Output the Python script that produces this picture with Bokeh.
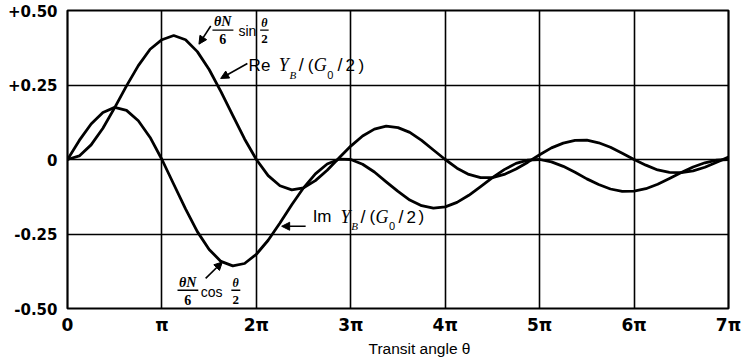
from bokeh.plotting import figure
from bokeh.models import Range1d, FixedTicker, Label, Arrow, NormalHead, Title
from bokeh.embed import file_html
from bokeh.resources import INLINE

# transit angle in units of pi
theta_pi = [0.0, 0.125, 0.25, 0.375, 0.5, 0.625, 0.75, 0.875,
            1.0, 1.125, 1.25, 1.375, 1.5, 1.625, 1.75, 1.875,
            2.0, 2.125, 2.25, 2.375, 2.5, 2.625, 2.75, 2.875,
            3.0, 3.125, 3.25, 3.375, 3.5, 3.625, 3.75, 3.875,
            4.0, 4.125, 4.25, 4.375, 4.5, 4.625, 4.75, 4.875,
            5.0, 5.125, 5.25, 5.375, 5.5, 5.625, 5.75, 5.875,
            6.0, 6.125, 6.25, 6.375, 6.5, 6.625, 6.75, 6.875, 7.0]

re_yb = [0.000, 0.012, 0.049, 0.105, 0.174, 0.247, 0.315, 0.370,
         0.402, 0.416, 0.402, 0.362, 0.302, 0.228, 0.148, 0.069,
         0.000, -0.054, -0.088, -0.102, -0.095, -0.071, -0.036, 0.005,
         0.045, 0.079, 0.102, 0.112, 0.107, 0.091, 0.064, 0.032,
         0.000, -0.029, -0.050, -0.061, -0.061, -0.050, -0.032, -0.009,
         0.016, 0.039, 0.055, 0.064, 0.065, 0.056, 0.041, 0.021,
         0.000, -0.019, -0.035, -0.043, -0.044, -0.038, -0.026, -0.009, 0.008]

im_yb = [0.000, 0.064, 0.119, 0.158, 0.175, 0.165, 0.130, 0.074,
         0.000, -0.083, -0.166, -0.242, -0.302, -0.342, -0.357, -0.349,
         -0.318, -0.271, -0.213, -0.152, -0.095, -0.048, -0.015, 0.001,
         0.000, -0.016, -0.042, -0.075, -0.107, -0.136, -0.155, -0.163,
         -0.159, -0.144, -0.120, -0.091, -0.061, -0.034, -0.013, -0.002,
         0.000, -0.008, -0.023, -0.043, -0.065, -0.084, -0.099, -0.107,
         -0.106, -0.098, -0.083, -0.064, -0.044, -0.025, -0.011, -0.002, 0.000]

x_ticks = [0, 1, 2, 3, 4, 5, 6, 7]
x_tick_labels = ["0", "π", "2π", "3π", "4π", "5π", "6π", "7π"]
y_ticks = [-0.5, -0.25, 0.0, 0.25, 0.5]
y_tick_labels = ["-0.50", "-0.25", "0", "+0.25", "+0.50"]
x_title = "Transit angle θ"

p = figure(width=742, height=361, x_range=Range1d(0, 7), y_range=Range1d(-0.5, 0.5),
           output_backend="svg", toolbar_location=None,
           min_border_left=67, min_border_right=14, min_border_top=10, min_border_bottom=53)
p.background_fill_color = "white"
p.border_fill_color = "white"
p.outline_line_color = "black"
p.outline_line_width = 2.2

p.xaxis.ticker = FixedTicker(ticks=x_ticks)
p.xaxis.major_label_overrides = dict(zip(x_ticks, x_tick_labels))
p.yaxis.ticker = FixedTicker(ticks=y_ticks)
p.yaxis.major_label_overrides = dict(zip(y_ticks, y_tick_labels))

for ax in (p.xaxis, p.yaxis):
    ax.axis_line_color = None
    ax.major_tick_line_color = None
    ax.minor_tick_line_color = None
    ax.major_tick_out = 0
    ax.major_tick_in = 0
    ax.major_label_text_font = "DejaVu Sans"
    ax.major_label_text_font_style = "bold"
    ax.major_label_text_color = "black"
p.xaxis.major_label_text_font_size = "17px"
p.xaxis.major_label_standoff = 6
p.yaxis.major_label_text_font_size = "15px"
p.yaxis.major_label_standoff = 10

for g in (p.xgrid, p.ygrid):
    g.grid_line_color = "black"
    g.grid_line_width = 1.6
    g.grid_line_alpha = 1.0

p.line(theta_pi, re_yb, line_color="black", line_width=2.8, line_join="round", line_cap="round")
p.line(theta_pi, im_yb, line_color="black", line_width=2.8, line_join="round", line_cap="round")

p.add_layout(Title(text=x_title, align="left", offset=301, standoff=0,
                   text_font="Liberation Sans", text_font_size="15.5px",
                   text_font_style="normal", text_color="black"), "below")


def put(txt, x, y, size, font="Liberation Sans", style="normal", align="left", baseline="middle"):
    p.add_layout(Label(x=x, y=y, text=txt, text_font=font, text_font_size=f"{size}px",
                       text_font_style=style, text_align=align, text_baseline=baseline,
                       text_color="black"))


def bar(x0, x1, y):
    p.add_layout(Arrow(x_start=x0, y_start=y, x_end=x1, y_end=y, end=None,
                       line_color="black", line_width=1.4))


def pointer(x0, y0, x1, y1):
    p.add_layout(Arrow(x_start=x0, y_start=y0, x_end=x1, y_end=y1,
                       line_color="black", line_width=1.6,
                       end=NormalHead(size=8, fill_color="black", line_color="black")))


SERIF = "Liberation Serif"

# (thetaN/6) sin(theta/2)
put("θN", 1.643, 0.462, 14, SERIF, "bold italic", "center")
bar(1.535, 1.757, 0.434)
put("6", 1.643, 0.405, 14, SERIF, "bold", "center")
put("sin", 1.810, 0.431, 14)
put("θ", 2.085, 0.459, 12, SERIF, "bold italic", "center")
bar(2.040, 2.130, 0.434)
put("2", 2.085, 0.405, 13, SERIF, "bold", "center")
pointer(1.517, 0.448, 1.392, 0.387)

# Re Y_B/(G0/2)
ry, rs = 0.316, 0.285
put("Re", 1.918, ry, 17)
put("Y", 2.236, ry, 18, SERIF, "italic")
put("B", 2.350, rs, 11, SERIF, "italic")
put("/", 2.448, ry, 18)
put("(", 2.543, ry, 17)
put("G", 2.607, ry, 18, SERIF, "italic")
put("0", 2.750, rs, 11)
put("/", 2.860, ry, 18)
put("2", 2.945, ry, 17)
put(")", 3.082, ry, 17)
pointer(1.905, 0.322, 1.622, 0.272)

# Im Y_B/(G0/2)
iy, isub = -0.192, -0.223
put("Im", 2.596, iy, 17)
put("Y", 2.892, iy, 18, SERIF, "italic")
put("B", 3.006, isub, 11, SERIF, "italic")
put("/", 3.104, iy, 18)
put("(", 3.199, iy, 17)
put("G", 3.262, iy, 18, SERIF, "italic")
put("0", 3.406, isub, 11)
put("/", 3.505, iy, 18)
put("2", 3.590, iy, 17)
put(")", 3.717, iy, 17)
pointer(2.522, -0.224, 2.268, -0.224)

# (thetaN/6) cos(theta/2)
put("θN", 1.273, -0.413, 14, SERIF, "bold italic", "center")
bar(1.165, 1.385, -0.439)
put("6", 1.273, -0.470, 14, SERIF, "bold", "center")
put("cos", 1.411, -0.445, 14)
put("θ", 1.781, -0.416, 12, SERIF, "bold italic", "center")
bar(1.735, 1.830, -0.439)
put("2", 1.781, -0.472, 13, SERIF, "bold", "center")
pointer(1.463, -0.399, 1.640, -0.344)

open("out.html", "w").write(file_html(p, INLINE))
